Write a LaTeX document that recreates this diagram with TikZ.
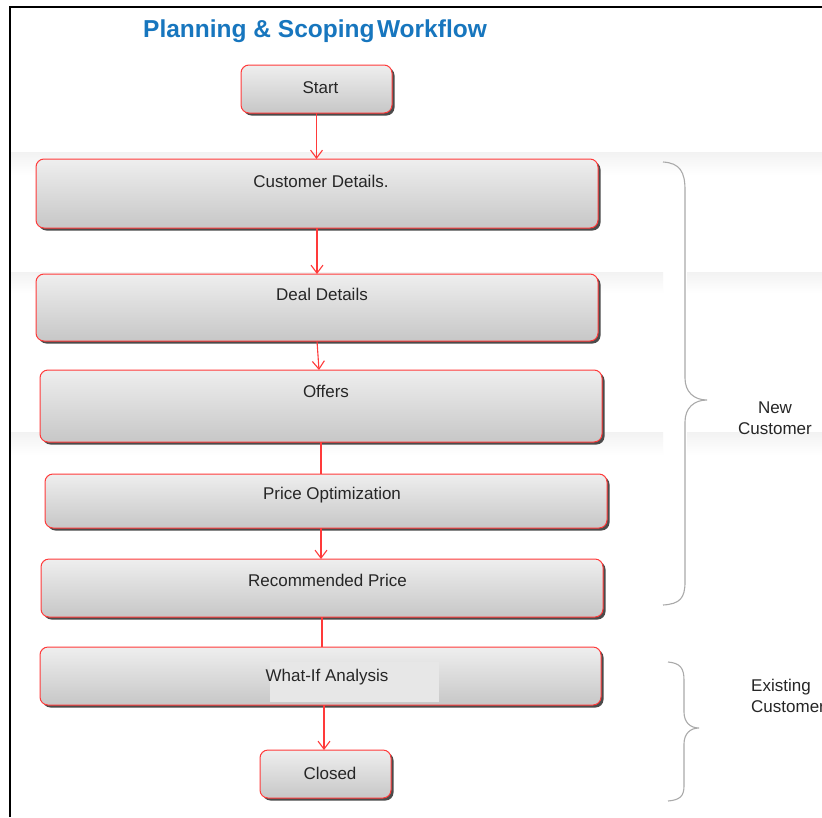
\documentclass[tikz,border=0pt]{standalone}
\usepackage{fontspec}
\setmainfont{Liberation Sans}
\usetikzlibrary{arrows.meta}
\definecolor{titleblue}{RGB}{23,118,190}
\definecolor{flowred}{RGB}{255,58,58}
\definecolor{bracegray}{RGB}{170,170,170}
\definecolor{shadowgray}{RGB}{75,75,75}
\begin{document}
\begin{tikzpicture}[x=1pt,y=-1pt,
  stepbox/.style={rectangle, rounded corners=8pt, inner sep=0pt, outer sep=0pt,
    draw=flowred, line width=1pt, top color=gray!13, bottom color=gray!44,
    preaction={fill=shadowgray, transform canvas={shift={(2.5pt,-2.5pt)}}}},
  steptext/.style={font=\fontsize{17}{20}\selectfont, text=black!85, inner sep=0pt},
  conn/.style={draw=flowred, line width=1.1pt},
  arr/.style={conn, -{Straight Barb[length=8pt,width=12pt]}},
  brace/.style={draw=bracegray, line width=1.1pt},
  band/.style={top color=gray!10, bottom color=white, draw=none}]

% page area and frame
\useasboundingbox (0,0) rectangle (822,817);
\fill[white] (0,0) rectangle (822,817);

% faint background bands
\shade[band] (10,152) rectangle (822,175);
\shade[band] (10,272) rectangle (663,293);
\shade[band] (687,272) rectangle (822,293);
\shade[band] (10,432) rectangle (663,455);
\shade[band] (687,432) rectangle (822,455);

\draw[black, line width=2.5pt] (10,817) -- (10,7) -- (822,7);

% title
\node[font=\fontsize{24.5}{28}\bfseries, text=titleblue] (title) at (315,31)
  {Planning \& Scoping\hspace{0.1em}Workflow};

% steps
\node[stepbox, minimum width=151pt, minimum height=48pt] (start)  at (316.5,89)  {};
\node[stepbox, minimum width=562pt, minimum height=69pt] (cust)   at (317,193.5) {};
\node[stepbox, minimum width=562pt, minimum height=67pt] (deal)   at (317,307.5) {};
\node[stepbox, minimum width=562pt, minimum height=72pt] (offers) at (321,406)   {};
\node[stepbox, minimum width=562pt, minimum height=54pt] (popt)   at (326,501)   {};
\node[stepbox, minimum width=562pt, minimum height=58pt] (rec)    at (322,588)   {};
\node[stepbox, minimum width=561pt, minimum height=58pt] (what)   at (320.5,676) {};
\node[stepbox, minimum width=131pt, minimum height=48pt] (closed) at (325.5,774) {};

% lighter patch behind the What-If text
\fill[gray!19] (270,662) rectangle (439,702);

% step texts
\node[steptext] (startlbl)  at (320.5,88) {Start};
\node[steptext] (custlbl)   at (321,181)  {Customer Details.};
\node[steptext] (deallbl)   at (322,294)  {Deal Details};
\node[steptext] (offerslbl) at (326,391)  {Offers};
\node[steptext] (poptlbl)   at (332,495)  {Price Optimization};
\node[steptext] (reclbl)    at (327.5,580) {Recommended Price};
\node[steptext] (whatlbl)   at (327,677)  {What-If Analysis};
\node[steptext] (closedlbl) at (330,773)  {Closed};

% connectors
\draw[arr]  (start.south) -- (start.south |- cust.north);
\draw[arr]  (cust.south) -- (cust.south |- deal.north);
\draw[arr]  (deal.south) -- ([xshift=-2pt]offers.north);
\draw[conn] (offers.south) -- (offers.south |- popt.north);
\draw[arr]  ([xshift=-1pt]rec.north |- popt.south) -- ([xshift=-1pt]rec.north);
\draw[conn] (rec.south) -- (rec.south |- what.north);
\draw[arr]  ([xshift=-1.5pt]closed.north |- what.south) -- ([xshift=-1.5pt]closed.north);

% braces
\draw[brace] (663,162) .. controls (680,163) and (685,172) .. (685,190)
  -- (685,378) .. controls (685,392) and (694,400) .. (707,400)
  .. controls (694,400) and (685,408) .. (685,422)
  -- (685,582) .. controls (685,598) and (680,604) .. (663,605);
\draw[brace] (668,662) .. controls (680,663) and (684,668) .. (684,680)
  -- (684,712) .. controls (684,722) and (690,728) .. (699,728)
  .. controls (690,728) and (684,734) .. (684,744)
  -- (684,786) .. controls (684,796) and (680,800) .. (668,801);

% group labels
\node[steptext, align=center] (newlbl) at (775,418) {New\\[1pt]Customer};
\node[steptext, align=left, anchor=west] (existlbl) at (751,696) {Existing\\[1pt]Customer};
\end{tikzpicture}
\end{document}
